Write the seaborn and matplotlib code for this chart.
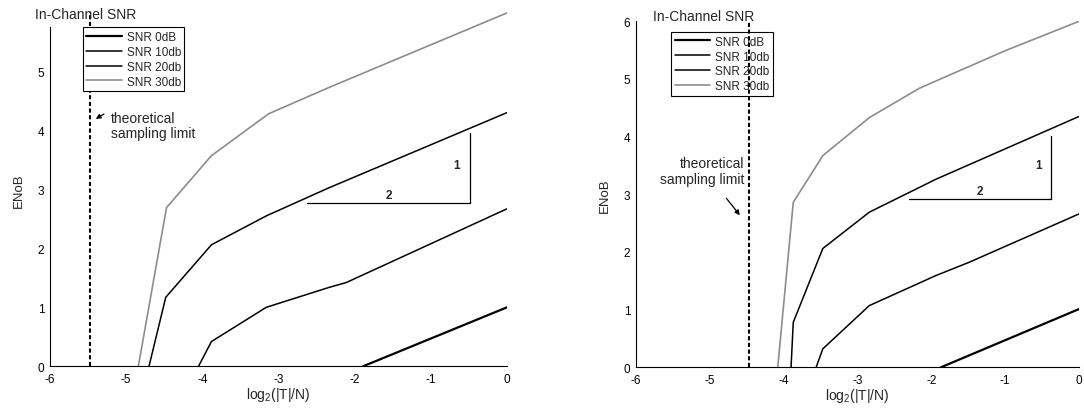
import matplotlib
matplotlib.use("Agg")
import matplotlib.pyplot as plt
import seaborn as sns
import pandas as pd

# ENoB versus log2(|T|/N) for four in-channel SNR levels (two configurations)
series_labels = ["SNR 0dB", "SNR 10db", "SNR 20db", "SNR 30db"]

left_x_0 = [-1.89, 0.0]
left_y_0 = [0.0, 1.0]
left_x_10 = [-4.05, -3.88, -3.16, -2.33, -2.11, 0.0]
left_y_10 = [0.0, 0.42, 1.0, 1.34, 1.42, 2.67]
left_x_20 = [-4.70, -4.48, -3.88, -3.16, -2.33, 0.0]
left_y_20 = [0.0, 1.17, 2.06, 2.55, 3.03, 4.30]
left_x_30 = [-4.84, -4.47, -3.88, -3.13, -2.33, 0.0]
left_y_30 = [0.0, 2.69, 3.57, 4.28, 4.73, 5.99]

right_x_0 = [-1.87, 0.0]
right_y_0 = [0.0, 1.01]
right_x_10 = [-3.56, -3.47, -2.84, -1.94, -1.49, 0.0]
right_y_10 = [0.0, 0.32, 1.07, 1.59, 1.82, 2.66]
right_x_20 = [-3.90, -3.87, -3.47, -2.84, -1.94, 0.0]
right_y_20 = [0.0, 0.78, 2.06, 2.69, 3.26, 4.35]
right_x_30 = [-4.08, -3.87, -3.47, -2.84, -2.16, -1.0, 0.0]
right_y_30 = [0.0, 2.86, 3.67, 4.33, 4.84, 5.49, 6.0]

# theoretical sampling limit for each configuration
left_limit = -5.48
right_limit = -4.47

# slope-1/2 reference triangles: (x_start, x_end, y_base, y_top)
left_triangle = (-2.62, -0.49, 2.77, 3.95)
right_triangle = (-2.30, -0.38, 2.92, 4.01)

x_ticks = [-6, -5, -4, -3, -2, -1, 0]
left_y_ticks = [0, 1, 2, 3, 4, 5]
right_y_ticks = [0, 1, 2, 3, 4, 5, 6]

sns.set_theme(style="white")
plt.rcParams["font.family"] = ["Liberation Sans", "DejaVu Sans"]
plt.rcParams["mathtext.fontset"] = "custom"
plt.rcParams["mathtext.rm"] = "Liberation Sans"
plt.rcParams["mathtext.default"] = "regular"

colors = ["black", "black", "black", "#8c8c8c"]
widths = [1.6, 1.1, 1.1, 1.2]

fig = plt.figure(figsize=(10.84, 4.10), dpi=100)
ax_l = fig.add_axes([0.0461, 0.1041, 0.4216, 0.8634])
ax_r = fig.add_axes([0.5867, 0.1017, 0.4087, 0.8439])


def draw_panel(ax, xs, ys, limit, tri, yticks, legend_anchor, title_pos,
               line_on_top):
    for x, y, lab, c, w in zip(xs, ys, series_labels, colors, widths):
        df = pd.DataFrame({"x": x, "y": y})
        sns.lineplot(data=df, x="x", y="y", ax=ax, color=c, linewidth=w,
                     label=lab, sort=False, estimator=None)
    ax.axvline(limit, color="black", linewidth=1.5,
               linestyle=(0, (2.0, 1.2)), zorder=6 if line_on_top else 2)
    x0, x1, yb, yt = tri
    ax.plot([x0, x1], [yb, yb], color="black", linewidth=0.9)
    ax.plot([x1, x1], [yb, yt], color="black", linewidth=0.9)
    ax.text((x0 + x1) / 2, yb + 0.03, "2", ha="center", va="bottom",
            fontsize=8.5, fontweight="bold")
    ax.text(x1 - 0.17, (yb + yt) / 2 + 0.05, "1", ha="center", va="center",
            fontsize=8.5, fontweight="bold")

    ax.set_xlim(-6, 0)
    ax.set_ylim(0, 6)
    ax.set_xticks(x_ticks)
    ax.set_xticklabels([str(t) for t in x_ticks])
    ax.set_yticks(yticks)
    ax.set_yticklabels([str(t) for t in yticks])
    ax.tick_params(direction="in", length=3, width=0.7, labelsize=8.5,
                   colors="black")
    ax.tick_params(axis="x", pad=5)
    ax.tick_params(axis="y", pad=4)
    for s in ["top", "right"]:
        ax.spines[s].set_visible(False)
    for s in ["left", "bottom"]:
        ax.spines[s].set_color("black")
        ax.spines[s].set_linewidth(0.8)
    ax.set_xlabel(r"log$_2$(|T|/N)", fontsize=10, labelpad=0)
    ax.set_ylabel("ENoB", fontsize=9.5, labelpad=9)

    leg = ax.legend(loc="upper left", bbox_to_anchor=legend_anchor,
                    borderaxespad=0, fontsize=8.5, frameon=True,
                    fancybox=False, framealpha=1, edgecolor="black",
                    handlelength=3.0, handletextpad=0.4, labelspacing=0.25,
                    borderpad=0.3)
    leg.get_frame().set_linewidth(0.8)
    ax.text(title_pos[0], title_pos[1], "In-Channel SNR", transform=ax.transAxes,
            ha="left", va="center", fontsize=10)


draw_panel(ax_l, [left_x_0, left_x_10, left_x_20, left_x_30],
           [left_y_0, left_y_10, left_y_20, left_y_30],
           left_limit, left_triangle, left_y_ticks,
           (0.072, 0.958), (-0.033, 0.995), False)
ax_l.spines["left"].set_bounds(0, 5.75)

draw_panel(ax_r, [right_x_0, right_x_10, right_x_20, right_x_30],
           [right_y_0, right_y_10, right_y_20, right_y_30],
           right_limit, right_triangle, right_y_ticks,
           (0.079, 0.969), (0.039, 1.016), True)

# sampling-limit annotations
ax_l.text(-5.20, 4.08, "theoretical\nsampling limit", ha="left", va="center",
          fontsize=10, linespacing=1.15)
ax_l.annotate("", xy=(-5.43, 4.17), xytext=(-5.26, 4.30),
              arrowprops=dict(arrowstyle="-|>", color="black", lw=0.9,
                              mutation_scale=7))
ax_r.text(-4.53, 3.40, "theoretical\nsampling limit", ha="right", va="center",
          fontsize=10, linespacing=1.15)
ax_r.annotate("", xy=(-4.57, 2.60), xytext=(-4.80, 2.97),
              arrowprops=dict(arrowstyle="-|>", color="black", lw=0.9,
                              mutation_scale=7))

fig.savefig("out.png", dpi=100)
